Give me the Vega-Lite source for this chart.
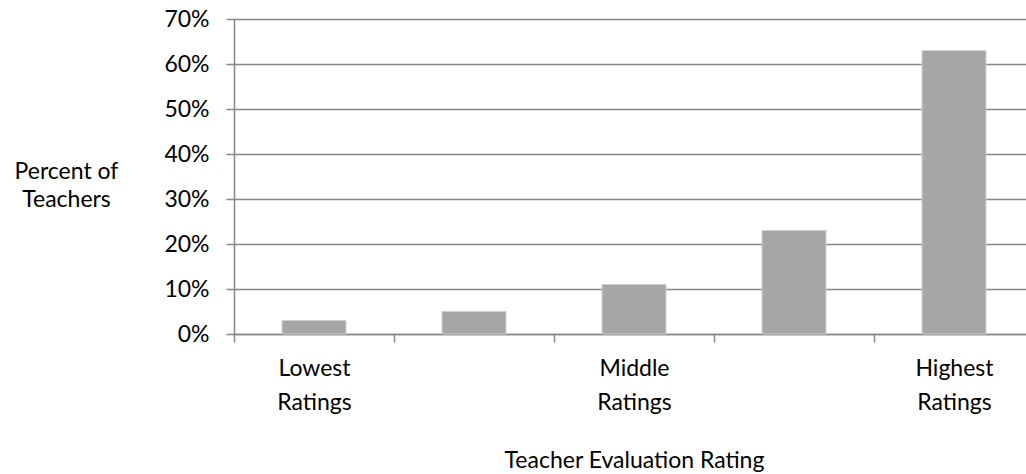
{
  "$schema": "https://vega.github.io/schema/vega-lite/v6.json",
  "autosize": "none",
  "width": 792,
  "height": 315,
  "padding": {"left": 234, "top": 19, "right": 0, "bottom": 140},
  "background": "white",
  "config": {
    "view": {"stroke": null},
    "font": "Lato",
    "axis": {"labelFont": "Lato", "titleFont": "Lato", "labelColor": "#000000", "titleColor": "#000000", "titleFontWeight": "normal"}
  },
  "data": {
    "values": [
      {"rating": "1", "percent": 0.03},
      {"rating": "2", "percent": 0.05},
      {"rating": "3", "percent": 0.11},
      {"rating": "4", "percent": 0.23},
      {"rating": "5", "percent": 0.63}
    ]
  },
  "mark": {"type": "bar", "color": "#a6a6a6", "stroke": "#d0d0d0", "strokeWidth": 1},
  "encoding": {
    "x": {
      "field": "rating",
      "type": "nominal",
      "sort": null,
      "scale": {"range": [0, 800], "paddingInner": 0.6, "paddingOuter": 0.3},
      "axis": {
        "title": "Teacher Evaluation Rating",
        "titleFontSize": 23,
        "titleBaseline": "middle",
        "titleY": 126,
        "labelAngle": 0,
        "labelFontSize": 23,
        "labelLineHeight": 34,
        "labelPadding": 15,
        "labelBaseline": "top",
        "labelOffset": 80,
        "labelExpr": "datum.value == '1' ? ['Lowest', 'Ratings'] : datum.value == '3' ? ['Middle', 'Ratings'] : datum.value == '5' ? ['Highest', 'Ratings'] : ''",
        "domain": true,
        "domainColor": "#868686",
        "domainWidth": 1.5,
        "ticks": true,
        "tickOffset": -80,
        "tickColor": "#868686",
        "tickSize": 8,
        "tickWidth": 1.5,
        "grid": false
      }
    },
    "y": {
      "field": "percent",
      "type": "quantitative",
      "scale": {"domain": [0, 0.7]},
      "axis": {
        "title": ["Percent of", "Teachers"],
        "titleAngle": 0,
        "titleAlign": "center",
        "titleBaseline": "middle",
        "titleX": -168,
        "titleY": 152,
        "titleFontSize": 23,
        "titleLineHeight": 28,
        "format": ".0%",
        "values": [0, 0.1, 0.2, 0.3, 0.4, 0.5, 0.6, 0.7],
        "labelFontSize": 23,
        "labelPadding": 17,
        "domain": true,
        "domainColor": "#868686",
        "domainWidth": 1.5,
        "ticks": true,
        "tickColor": "#868686",
        "tickSize": 8,
        "tickWidth": 1.5,
        "grid": true,
        "gridColor": "#868686",
        "gridWidth": 1.5
      }
    }
  }
}
